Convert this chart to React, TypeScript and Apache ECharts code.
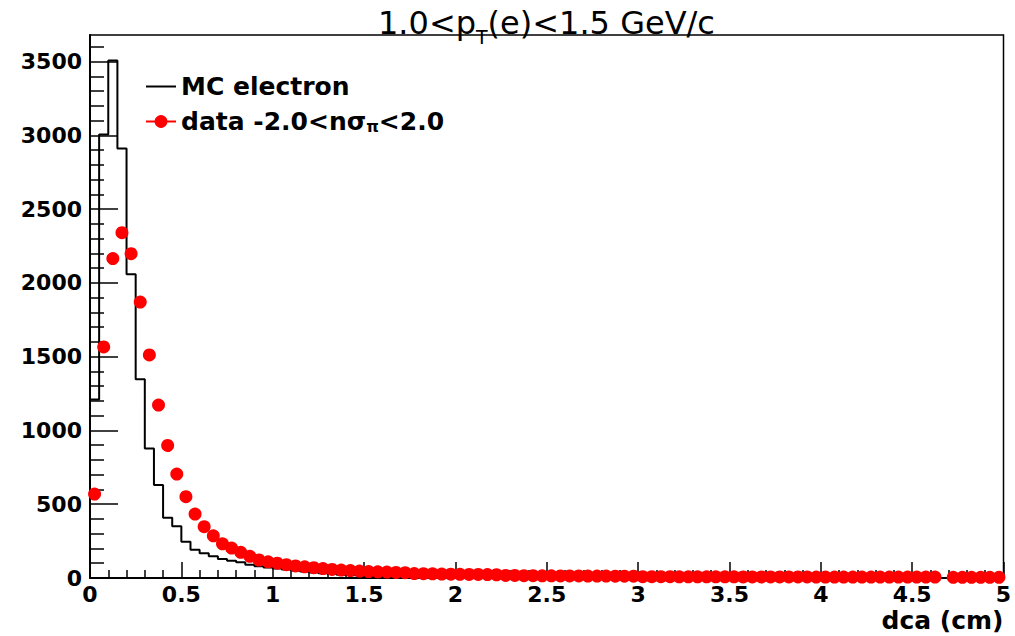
import React, { useEffect, useRef } from "react";
import * as echarts from "echarts";

// ---- data ----
const BIN_WIDTH = 0.05; // cm, 100 bins from 0 to 5
const MC_NAME = "MC electron";
const DATA_NAME = "data -2.0<nσπ<2.0";

// MC electron histogram contents, one value per bin
const MC_ELECTRON = [
  1210, 3006, 3507, 2911, 2058, 1347, 878, 630, 408, 350,
  246, 192, 167, 147, 129, 117, 106, 90, 80, 72,
  64, 58, 50, 44, 38, 32, 27, 22, 18, 15,
  13, 11, 10, 9, 8, 7, 6, 6, 5, 5,
  4, 4, 4, 3, 3, 3, 3, 2, 2, 2,
  2, 2, 2, 2, 1, 1, 1, 1, 1, 1,
  1, 1, 1, 1, 1, 1, 1, 0, 1, 1,
  1, 0, 1, 1, 0, 1, 0, 1, 0, 1,
  0, 1, 0, 0, 1, 0, 0, 1, 0, 0,
  1, 0, 0, 0, 0, 1, 0, 0, 0, 0,
];

// data points (bin centres), null = empty bin
const DATA_NSIGMA = [
  569, 1566, 2165, 2340, 2198, 1870, 1512, 1172, 898, 704,
  551, 433, 348, 286, 232, 203, 174, 147, 122, 110,
  100, 90, 82, 76, 70, 64, 58, 54, 50, 47,
  44, 42, 40, 38, 36, 30, 29, 28, 27, 26,
  25, 24, 24, 23, 22, 17, 17, 16, 16, 15,
  15, 14, 14, 14, 13, 13, 13, 12, 12, 12,
  9, 9, 9, 9, 8, 8, 8, 8, 8, 8,
  8, 7, 7, 7, 7, 7, 7, 7, 7, 6,
  6, 6, 6, 6, 6, 6, 6, 6, 6, 6,
  6, 6, 6, null, 5, 5, 5, 5, 5, 5,
];

const Y_MAJOR_TICKS = [0, 500, 1000, 1500, 2000, 2500, 3000, 3500];
const Y_MINOR_TICKS = [
  100, 200, 300, 400, 600, 700, 800, 900, 1100, 1200, 1300, 1400,
  1600, 1700, 1800, 1900, 2100, 2200, 2300, 2400, 2600, 2700, 2800, 2900,
  3100, 3200, 3300, 3400, 3600,
];

const FONT = "'DejaVu Sans', sans-serif";

export default function App() {
  const ref = useRef<HTMLDivElement>(null);

  useEffect(() => {
    if (!ref.current) return;
    const chart = echarts.init(ref.current, null, { renderer: "svg" });

    const mcStep: [number, number][] = MC_ELECTRON.map((v, i) => [i * BIN_WIDTH, v]);
    mcStep.push([MC_ELECTRON.length * BIN_WIDTH, MC_ELECTRON[MC_ELECTRON.length - 1]]);
    const dataPts = DATA_NSIGMA.map((v, i) => [(i + 0.5) * BIN_WIDTH, v]);

    const axisColor = "#000";

    chart.setOption({
      animation: false,
      backgroundColor: "#fff",
      title: {
        text: "{m|1.0<p}{sub|T}{m|(e)<1.5 GeV/c}",
        left: 378,
        top: 7,
        padding: 0,
        textStyle: {
          fontFamily: FONT,
          fontWeight: "normal",
          fontSize: 32,
          color: "#000",
          rich: {
            m: { fontFamily: FONT, fontSize: 32, lineHeight: 32, color: "#000", verticalAlign: "top" },
            sub: { fontFamily: FONT, fontSize: 19, lineHeight: 60, color: "#000", verticalAlign: "middle" },
          },
        },
      },
      legend: {
        orient: "vertical",
        left: 145,
        top: 74,
        padding: 0,
        itemGap: 10,
        itemWidth: 30,
        itemHeight: 16,
        data: [
          { name: MC_NAME, itemStyle: { opacity: 0 } },
          { name: DATA_NAME, lineStyle: { opacity: 1, width: 2, color: "#ff0000" } },
        ],
        formatter: (name: string) =>
          name === DATA_NAME ? "{t|data -2.0<nσ}{s|π}{t|<2.0}" : "{t|MC electron}",
        textStyle: {
          fontFamily: FONT,
          fontWeight: "bold",
          fontSize: 25,
          color: "#000",
          rich: {
            t: { fontFamily: FONT, fontWeight: "bold", fontSize: 25, lineHeight: 25, color: "#000", verticalAlign: "bottom" },
            s: { fontFamily: FONT, fontWeight: "bold", fontSize: 16, lineHeight: 3, color: "#000", verticalAlign: "bottom" },
          },
        },
      },
      grid: {
        left: 90,
        right: 11.5,
        top: 35,
        bottom: 58,
        show: true,
        borderColor: "#000",
        borderWidth: 1.5,
        backgroundColor: "transparent",
      },
      xAxis: {
        type: "value",
        min: 0,
        max: 5,
        interval: 0.5,
        axisLine: { lineStyle: { color: axisColor, width: 2 } },
        axisTick: { inside: true, length: 16, lineStyle: { color: axisColor, width: 1.5 } },
        minorTick: { show: true, splitNumber: 5, length: 8, lineStyle: { color: axisColor, width: 1.5 } },
        splitLine: { show: false },
        minorSplitLine: { show: false },
        axisLabel: { color: "#000", fontFamily: FONT, fontWeight: "bold", fontSize: 22, margin: 5 },
        name: "dca (cm)",
        nameLocation: "end",
        nameGap: 0,
        nameTextStyle: {
          color: "#000", fontFamily: FONT, fontWeight: "bold", fontSize: 25,
          align: "right", verticalAlign: "top", padding: [30, 0, 0, 0],
        },
      },
      yAxis: [
        {
          type: "value",
          min: 0,
          max: 3680,
          interval: 500,
          axisLine: { show: true, lineStyle: { color: axisColor, width: 2 } },
          axisTick: { show: true, inside: true, length: 28, customValues: Y_MAJOR_TICKS, lineStyle: { color: axisColor, width: 1.5 } },
          splitLine: { show: false },
          axisLabel: {
            color: "#000", fontFamily: FONT, fontWeight: "bold", fontSize: 22, margin: 8,
            customValues: Y_MAJOR_TICKS,
            formatter: (v: number) => String(v),
          },
        },
        {
          type: "value",
          min: 0,
          max: 3680,
          interval: 100,
          position: "left",
          axisLine: { show: false },
          axisTick: { show: true, inside: true, length: 14, customValues: Y_MINOR_TICKS, lineStyle: { color: axisColor, width: 1.5 } },
          splitLine: { show: false },
          axisLabel: { show: false },
        },
      ],
      series: [
        {
          name: MC_NAME,
          type: "line",
          step: "end",
          data: mcStep,
          symbol: "none",
          yAxisIndex: 0,
          lineStyle: { color: "#000", width: 2 },
          itemStyle: { color: "#000" },
          z: 2,
        },
        {
          name: DATA_NAME,
          type: "line",
          data: dataPts,
          symbol: "circle",
          symbolSize: 13,
          showSymbol: true,
          yAxisIndex: 0,
          connectNulls: false,
          itemStyle: { color: "#ff0000" },
          lineStyle: { opacity: 0, color: "#ff0000" },
          z: 3,
        },
      ],
    });

    return () => chart.dispose();
  }, []);

  return (
    <div
      ref={ref}
      style={{ position: "absolute", left: 0, top: 0, width: 1015, height: 636 }}
    />
  );
}
